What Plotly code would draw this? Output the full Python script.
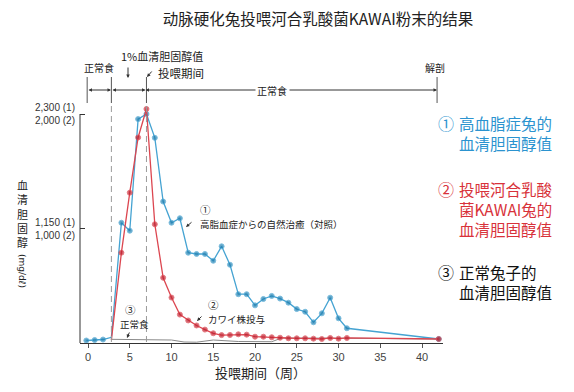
import plotly.graph_objects as go

# ---------------- data ----------------
# (1) hyperlipidemic rabbits, natural recovery (control)  -- scale (1)
weeks_control = [-0.2, 0.8, 1.8, 2.8, 4, 5, 6, 7, 8, 9, 10, 11, 12, 13, 14, 15, 16, 17,
                 18, 19, 20, 21, 22, 23, 24, 25, 26, 27, 28, 29, 30, 31, 42]
chol_control = [25, 30, 35, 57, 1208, 1128, 2249, 2300, 2061, 1421, 1208, 1253, 907, 894,
                894, 826, 971, 786, 490, 490, 378, 442, 473, 446, 405, 341, 314, 208,
                298, 455, 248, 148, 40]

# (2) rabbits fed KAWAI strain  -- scale (2)
weeks_kawai = [2.8, 4, 5, 6, 7, 8, 9, 10, 11, 12, 13, 14, 15, 16, 17, 18, 19, 20, 21,
               22, 23, 24, 25, 26, 27, 28, 29, 30, 31, 42]
chol_kawai = [25, 789, 1313, 1795, 2044, 1037, 570, 397, 248, 197, 153, 117, 85, 69, 70,
              76, 73, 55, 55, 50, 46, 41, 41, 41, 38, 35, 44, 38, 44, 35]

# (3) normal rabbits -- scale (1)
weeks_normal = [2.8, 7, 10, 11.5, 13, 15, 18, 22, 23.2, 31, 42]
chol_normal = [37, 30, 30, 10, 8, 30, 15, 13, 50, 48, 40]

x_ticks = [0, 5, 10, 15, 20, 25, 30, 35, 40]
y_ticks = [1150, 2300]
y_tick_labels = ["1,150 (1)<br>1,000 (2)", "2,300 (1)<br>2,000 (2)"]

title_text = "动脉硬化兔投喂河合乳酸菌KAWAI粉末的结果"

# event weeks
week_start_feed = 2.8
week_end_feed = 7
week_first = -0.1
week_autopsy = 41.8

# ---------------- layout geometry ----------------
W, H = 574, 392
L, R, T, B = 80, 131, 55, 49
PW, PH = W - L - R, H - T - B
XMIN, XMAX = -0.958, 42.51
Y1MAX = 2892.6
Y2MAX = Y1MAX * 2000 / 2300

def px(xp):
    return (xp - L) / PW

def py(yp):
    return (H - B - yp) / PH

CJK = "Noto Sans CJK SC"
JP = "Noto Sans CJK JP"
BLUE_LINE, BLUE_MK = "#45a3d2", "#1f7fb0"
RED_LINE, RED_MK = "#dc4650", "#c01f2e"

fig = go.Figure()

fig.add_trace(go.Scatter(x=weeks_normal, y=chol_normal, mode="lines",
                         line=dict(color="#8a8a8a", width=1), yaxis="y",
                         hoverinfo="skip", showlegend=False))

fig.add_trace(go.Scatter(x=weeks_kawai, y=chol_kawai, mode="lines+markers",
                         line=dict(color=RED_LINE, width=1.3),
                         marker=dict(color=RED_MK, size=[0] + [5] * (len(weeks_kawai) - 1)),
                         yaxis="y2", showlegend=False))

fig.add_trace(go.Scatter(x=weeks_control, y=chol_control, mode="lines+markers",
                         line=dict(color=BLUE_LINE, width=1.3),
                         marker=dict(color=BLUE_MK,
                                     size=[5 if w < 2.5 or w > 3 else 0 for w in weeks_control]),
                         yaxis="y", showlegend=False))

shapes = []
# y axis line from 0 to 2300
shapes.append(dict(type="line", xref="paper", yref="y", x0=0, x1=0, y0=0, y1=2300,
                   line=dict(color="#333", width=1)))
# dashed event lines
for w in (week_start_feed, week_end_feed):
    shapes.append(dict(type="line", xref="x", yref="paper", x0=w, x1=w,
                       y0=py(342), y1=py(103), line=dict(color="#9a9a9a", width=1, dash="6px,4px")))
# solid timeline ticks
for w in (week_first, week_start_feed, week_end_feed, week_autopsy):
    shapes.append(dict(type="line", xref="x", yref="paper", x0=w, x1=w,
                       y0=py(103), y1=py(77), line=dict(color="#555", width=1)))

ann = []

def text(xp, yp, s, size, color="#222", xanchor="center", family=CJK, angle=0):
    ann.append(dict(x=px(xp), y=py(yp), xref="paper", yref="paper", text=s,
                    showarrow=False, xanchor=xanchor, yanchor="middle", borderpad=0,
                    align="left" if xanchor == "left" else "center",
                    font=dict(size=size, color=color, family=family), textangle=angle))

def arrow(x_tip, y_tip, x_tail, y_tail, side="end", color="#333"):
    ann.append(dict(x=px(x_tip), y=py(y_tip), xref="paper", yref="paper", text="",
                    showarrow=True, ax=x_tail - x_tip, ay=y_tail - y_tip,
                    axref="pixel", ayref="pixel", arrowhead=2, startarrowhead=2,
                    arrowsize=0.7, startarrowsize=0.7, arrowwidth=1, arrowcolor=color,
                    arrowside=side, standoff=0, startstandoff=0))

# top timeline
tl = 90
arrow(111, tl, 87, tl, side="end+start")
arrow(145.5, tl, 111, tl, side="end+start")
arrow(145.5, tl, 257, tl, side="end")
arrow(437, tl, 288, tl, side="end")
text(272, tl, "正常食", 10)
text(99, 68, "正常食", 10)
text(162, 56, "1%血清胆固醇值", 11)
arrow(128, 78, 128, 66)
text(157, 73, "投喂期间", 11.5, xanchor="left")
arrow(147, 77, 153, 70)
text(435, 68, "解剖", 10)

# in-plot labels
text(205, 209, "①", 10.5)
text(199, 224, "高脂血症からの自然治癒（対照）", 9.5, xanchor="left", family=JP)
arrow(186, 227, 193, 221)
text(213, 304, "②", 10.5)
text(207, 319, "カワイ株投与", 9.5, xanchor="left", family=JP)
arrow(197, 321, 203, 315)
text(130, 309, "③", 10.5)
text(134, 324, "正常食", 9.5, family=JP)
arrow(127, 338, 130, 331)

# y title (vertical writing)
text(22, 214, "血<br>清<br>胆<br>固<br>醇", 11)
text(22, 271, "(mg/dℓ)", 9, angle=90, family="DejaVu Sans")

# x title
text(260, 372, "投喂期间（周）", 13)

# right-side legend texts
text(437, 123, "①", 16, color="#2b93cf", xanchor="left")
text(458, 133, "高血脂症兔的<br>血清胆固醇值", 15.5, color="#2b93cf", xanchor="left")
text(437, 189, "②", 16, color="#d8323a", xanchor="left")
text(458, 209, "投喂河合乳酸<br>菌KAWAI兔的<br>血清胆固醇值", 15.5, color="#d8323a", xanchor="left")
text(437, 272, "③", 16, color="#111", xanchor="left")
text(458, 282, "正常兔子的<br>血清胆固醇值", 15.5, color="#111", xanchor="left")

fig.update_layout(
    width=W, height=H,
    margin=dict(l=L, r=R, t=T, b=B, pad=0),
    paper_bgcolor="white", plot_bgcolor="white",
    title=dict(text=title_text, x=318 / W, y=1 - 20 / H, xref="container", yref="container",
               xanchor="center", yanchor="middle",
               font=dict(size=15.5, color="#222", family=CJK)),
    xaxis=dict(range=[XMIN, XMAX], tickvals=x_ticks, showgrid=False, zeroline=False,
               showline=True, linecolor="#333", linewidth=1, ticks="outside", ticklen=4,
               tickcolor="#555", tickfont=dict(size=11, color="#444", family="Liberation Sans")),
    yaxis=dict(range=[0, Y1MAX], tickvals=y_ticks, ticktext=y_tick_labels, showgrid=False,
               zeroline=False, showline=False, ticks="inside", ticklen=5, tickcolor="#333",
               ticklabelstandoff=4,
               tickfont=dict(size=10, color="#333", family="Liberation Sans")),
    yaxis2=dict(range=[0, Y2MAX], overlaying="y", visible=False),
    shapes=shapes, annotations=ann,
)

fig.write_html("out.html")
